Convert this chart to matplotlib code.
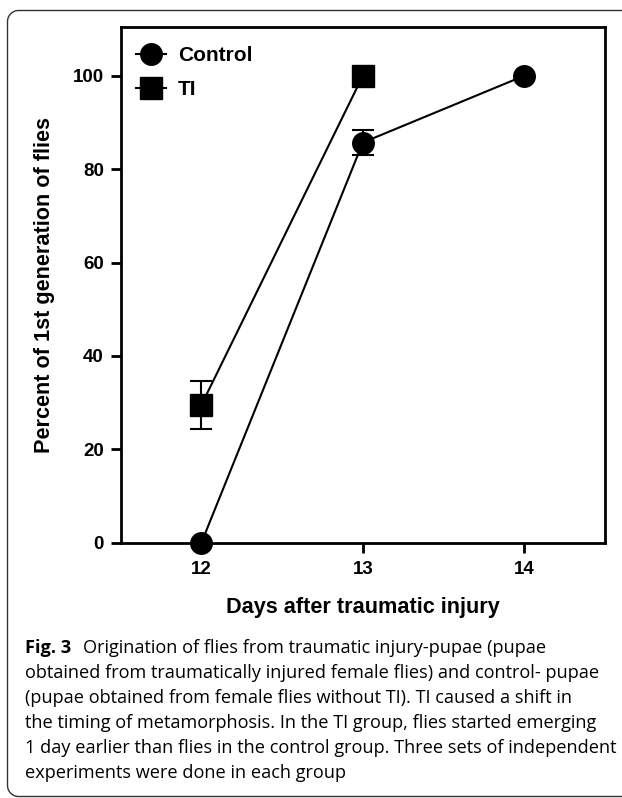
import matplotlib
matplotlib.use('Agg')
import numpy as np
import matplotlib.pyplot as plt
from matplotlib.path import Path
from matplotlib.patches import PathPatch
from matplotlib.lines import Line2D

days = [12, 13, 14]
control_pct = [0, 85.7, 100]
control_err = [0, 2.7, 0]
ti_days = [12, 13]
ti_pct = [29.5, 100]
ti_err = [5.2, 0]
y_ticks = [0, 20, 40, 60, 80, 100]

caption_lines = [
    'Origination of flies from traumatic injury-pupae (pupae',
    'obtained from traumatically injured female flies) and control- pupae',
    '(pupae obtained from female flies without TI). TI caused a shift in',
    'the timing of metamorphosis. In the TI group, flies started emerging',
    '1 day earlier than flies in the control group. Three sets of independent',
    'experiments were done in each group',
]

W, H = 622, 798
fig = plt.figure(figsize=(W / 100, H / 100), dpi=100)
plt.rcParams['font.family'] = ['Liberation Sans', 'DejaVu Sans']


def px(x, y):
    # pixel (from top-left) -> figure fraction
    return x / W, 1 - y / H


# rounded frame (left, top, bottom edges; right side runs off the image)
r = 11
left, top, bot = 7.5, 10.5, 796.5
pts = [(W + 3, bot), (left + r, bot)]
for a in np.linspace(90, 180, 10):
    pts.append((left + r + r * np.cos(np.radians(a)), bot - r + r * np.sin(np.radians(a))))
pts.append((left, top + r))
for a in np.linspace(180, 270, 10):
    pts.append((left + r + r * np.cos(np.radians(a)), top + r + r * np.sin(np.radians(a))))
pts.append((W + 3, top))
frame = PathPatch(Path([px(*p) for p in pts]), transform=fig.transFigure,
                  fill=False, edgecolor='#333333', linewidth=1.0)
fig.patches.append(frame)

ax = fig.add_axes([120.7 / W, 1 - 542.7 / H, (605 - 120.7) / W, (542.7 - 26.7) / H])

ax.errorbar(days, control_pct, yerr=control_err, color='black', marker='o',
            markersize=15.5, linewidth=1.5, elinewidth=1.5, capsize=8, capthick=1.5,
            zorder=3, clip_on=False)
ax.errorbar(ti_days, ti_pct, yerr=ti_err, color='black', marker='s',
            markersize=15.5, linewidth=1.5, elinewidth=1.5, capsize=8, capthick=1.5,
            zorder=3, clip_on=False)

ax.set_xlim(11.5, 14.5)
ax.set_ylim(0, 110.5)
ax.set_xticks(days)
ax.set_yticks(y_ticks)

for s in ax.spines.values():
    s.set_linewidth(2.0)
ax.tick_params(axis='both', which='major', length=7.2, width=2.0, labelsize=13.5,
               direction='out')
ax.tick_params(axis='x', pad=6)
ax.tick_params(axis='y', pad=5)
for lbl in ax.get_xticklabels() + ax.get_yticklabels():
    lbl.set_fontweight('bold')

ax.set_xlabel('Days after traumatic injury', fontsize=15.6, fontweight='bold')
ax.set_ylabel('Percent of 1st generation of flies', fontsize=15.6, fontweight='bold')
ax.xaxis.set_label_coords(0.5, (542.7 - 607) / 516)
ax.xaxis.label.set_verticalalignment('center')
ax.yaxis.set_label_coords((45 - 120.7) / 484.3, 0.5)
ax.yaxis.label.set_verticalalignment('center')

handles = [Line2D([], [], color='black', marker='o', markersize=15.5, linewidth=1.5),
           Line2D([], [], color='black', marker='s', markersize=15.5, linewidth=1.5)]
ax.legend(handles, ['Control', 'TI'], loc='upper left',
          bbox_to_anchor=((136 - 120.7) / 484.3, 0.963),
          frameon=False, borderpad=0, borderaxespad=0,
          handlelength=1.45, handletextpad=0.55, labelspacing=0.75,
          prop={'weight': 'bold', 'size': 15})

# caption, sized so the longest line spans the measured width
cap_font = ['Open Sans', 'DejaVu Sans']
fig.canvas.draw()
rend = fig.canvas.get_renderer()
probe = fig.text(0, 0, caption_lines[4], fontsize=12, family=cap_font)
cap_size = 12 * 588 / probe.get_window_extent(renderer=rend).width
probe.remove()

x0 = 25
t = fig.text(*px(x0, 646), 'Fig. 3', fontsize=cap_size, fontweight='bold', family=cap_font,
             va='center_baseline', ha='left')
bb = t.get_window_extent(renderer=rend)
fig.text(*px(bb.x1 + 12, 646), caption_lines[0], fontsize=cap_size, family=cap_font,
         va='center_baseline', ha='left')
for i, line in enumerate(caption_lines[1:], start=1):
    fig.text(*px(x0, 646 + 25 * i), line, fontsize=cap_size, family=cap_font,
             va='center_baseline', ha='left')

fig.savefig('out.png', dpi=100)
